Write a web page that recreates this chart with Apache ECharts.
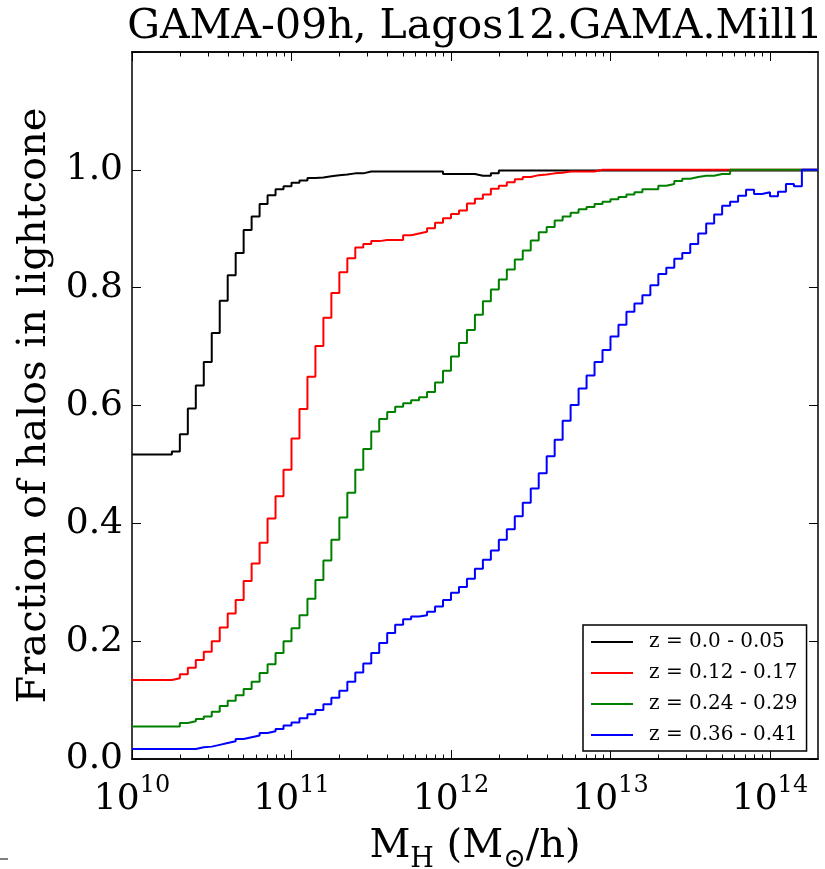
<!DOCTYPE html>
<html>
<head>
<meta charset="utf-8">
<title>GAMA-09h, Lagos12.GAMA.Mill1</title>
<script src="https://cdn.jsdelivr.net/npm/echarts@6/dist/echarts.min.js"></script>
<style>
  html, body { margin: 0; padding: 0; background: #fff; }
  #chart { width: 825px; height: 869px; }
</style>
</head>
<body>
<div id="chart"></div>
<script>
// histogram bins: log10(M_H) from 10.0 in steps of 0.05 dex (86 bins)
const binStart = 10.0;
const binWidth = 0.05;

const seriesNames = ["z = 0.0 - 0.05", "z = 0.12 - 0.17", "z = 0.24 - 0.29", "z = 0.36 - 0.41"];
const seriesColors = ["#000000", "#ff0000", "#008000", "#0000ff"];

const fracZ000 = [
  0.517, 0.517, 0.517, 0.517, 0.517, 0.522, 0.551, 0.595, 0.634, 0.674,
  0.723, 0.778, 0.821, 0.859, 0.898, 0.921, 0.942, 0.957, 0.967, 0.972,
  0.978, 0.982, 0.986, 0.987, 0.989, 0.991, 0.992, 0.994, 0.994, 0.997,
  0.997, 0.997, 0.997, 0.997, 0.997, 0.997, 0.997, 0.997, 0.997, 0.993,
  0.993, 0.993, 0.993, 0.990, 0.990, 0.994, 0.999, 0.999, 0.999, 0.999,
  0.999, 0.999, 0.999, 0.999, 0.999, 0.999, 0.999, 0.999, 0.999, 0.999,
  0.999, 0.999, 0.999, 0.999, 0.999, 0.999, 0.999, 0.999, 0.999, 0.999,
  0.999, 0.999, 0.999, 0.999, 0.999, 0.999, 0.999, 0.999, 0.999, 0.999,
  0.999, 0.999, 0.999, 0.999, 0.999, 0.999
];
const fracZ012 = [
  0.134, 0.134, 0.134, 0.134, 0.134, 0.137, 0.144, 0.155, 0.168, 0.182,
  0.200, 0.223, 0.247, 0.270, 0.302, 0.332, 0.367, 0.408, 0.446, 0.491,
  0.544, 0.594, 0.649, 0.701, 0.749, 0.791, 0.826, 0.850, 0.868, 0.874,
  0.879, 0.881, 0.881, 0.881, 0.889, 0.892, 0.895, 0.901, 0.910, 0.918,
  0.925, 0.931, 0.943, 0.951, 0.958, 0.968, 0.973, 0.979, 0.984, 0.988,
  0.991, 0.992, 0.994, 0.995, 0.997, 0.997, 0.997, 0.997, 1.000, 1.000,
  1.000, 1.000, 1.000, 1.000, 1.000, 1.000, 1.000, 1.000, 1.000, 1.000,
  1.000, 1.000, 1.000, 1.000, 1.000, 1.000, 1.000, 1.000, 1.000, 1.000,
  1.000, 1.000, 1.000, 1.000, 1.000, 1.000
];
const fracZ024 = [
  0.055, 0.055, 0.055, 0.055, 0.055, 0.055, 0.061, 0.064, 0.068, 0.072,
  0.080, 0.090, 0.099, 0.108, 0.119, 0.131, 0.146, 0.161, 0.180, 0.200,
  0.222, 0.244, 0.272, 0.304, 0.337, 0.372, 0.410, 0.452, 0.491, 0.526,
  0.556, 0.577, 0.589, 0.598, 0.604, 0.609, 0.614, 0.623, 0.639, 0.659,
  0.683, 0.706, 0.728, 0.754, 0.777, 0.797, 0.814, 0.831, 0.848, 0.863,
  0.880, 0.894, 0.903, 0.914, 0.921, 0.927, 0.933, 0.937, 0.942, 0.946,
  0.950, 0.954, 0.958, 0.962, 0.967, 0.967, 0.973, 0.976, 0.981, 0.985,
  0.988, 0.990, 0.990, 0.993, 0.993, 1.000, 1.000, 1.000, 1.000, 1.000,
  1.000, 1.000, 1.000, 1.000, 1.000, 1.000
];
const fracZ036 = [
  0.017, 0.017, 0.017, 0.017, 0.017, 0.017, 0.017, 0.017, 0.020, 0.021,
  0.024, 0.027, 0.030, 0.034, 0.037, 0.040, 0.044, 0.047, 0.051, 0.057,
  0.062, 0.069, 0.076, 0.083, 0.093, 0.104, 0.116, 0.131, 0.147, 0.162,
  0.180, 0.197, 0.214, 0.228, 0.237, 0.242, 0.244, 0.250, 0.259, 0.270,
  0.282, 0.292, 0.306, 0.323, 0.338, 0.354, 0.372, 0.390, 0.412, 0.435,
  0.459, 0.485, 0.514, 0.542, 0.574, 0.601, 0.629, 0.651, 0.674, 0.694,
  0.717, 0.737, 0.759, 0.773, 0.787, 0.804, 0.823, 0.834, 0.849, 0.859,
  0.874, 0.892, 0.909, 0.924, 0.939, 0.946, 0.956, 0.966, 0.959, 0.962,
  0.955, 0.963, 0.976, 0.972, 1.000, 1.000
];

const xMin = 1e10;
const xMax = 2e14;
const majorX = [1e10, 1e11, 1e12, 1e13, 1e14];

const minorX = [];
for (let e = 10; e < 14; e++) {
  for (let m = 2; m <= 9; m++) minorX.push(m * Math.pow(10, e));
}

// histogram -> step line: one point per bin left edge plus the last right edge
function stepData(vals) {
  const pts = vals.map((v, i) => [Math.pow(10, binStart + binWidth * i), v]);
  pts.push([Math.pow(10, binStart + binWidth * vals.length), vals[vals.length - 1]]);
  return pts;
}

const FONT = "DejaVu Serif";
const chart = echarts.init(document.getElementById("chart"), null, { renderer: "canvas" });

const axisLine = { show: true, onZero: false, lineStyle: { color: "#000", width: 1.5 } };

function xAxisDef(position, values, tickLen, withLabels) {
  return {
    type: "log",
    logBase: 10,
    min: xMin,
    max: xMax,
    position: position,
    axisLine: axisLine,
    splitLine: { show: false },
    axisTick: { show: true, inside: true, length: tickLen, customValues: values, lineStyle: { color: "#000", width: 1 } },
    axisLabel: withLabels ? {
      show: true,
      customValues: values,
      margin: 15,
      formatter: (v) => `{b|10}{s|${Math.round(Math.log10(v))}}`,
      rich: {
        b: { fontFamily: FONT, fontSize: 36, color: "#000", lineHeight: 44, verticalAlign: "bottom" },
        s: { fontFamily: FONT, fontSize: 24, color: "#000", lineHeight: 26, verticalAlign: "top" }
      }
    } : { show: false }
  };
}

const xAxes = [
  Object.assign(xAxisDef("bottom", majorX, 9, true), {
    name: "{m|M}{sub|H}{m| (M}{sub|⊙}{m|/h)}",
    nameLocation: "middle",
    nameGap: 68,
    nameTextStyle: {
      rich: {
        m: { fontFamily: FONT, fontSize: 40, color: "#000", lineHeight: 46, verticalAlign: "top" },
        sub: { fontFamily: FONT, fontSize: 27, color: "#000", lineHeight: 28, verticalAlign: "bottom" }
      }
    }
  }),
  xAxisDef("bottom", minorX, 4.5, false),
  xAxisDef("top", majorX, 9, false),
  xAxisDef("top", minorX, 4.5, false)
];

const yAxes = [
  {
    type: "value",
    min: 0,
    max: 1.2,
    interval: 0.2,
    position: "left",
    name: "Fraction of halos in lightcone",
    nameLocation: "middle",
    nameGap: 71,
    nameRotate: 90,
    nameTextStyle: { fontFamily: FONT, fontSize: 40, color: "#000" },
    axisLine: axisLine,
    splitLine: { show: false },
    axisTick: { show: true, inside: true, length: 9, lineStyle: { color: "#000", width: 1 } },
    axisLabel: {
      margin: 9,
      fontFamily: FONT,
      fontSize: 36,
      color: "#000",
      formatter: (v) => (v > 1.05 ? "" : v.toFixed(1))
    }
  },
  {
    type: "value",
    min: 0,
    max: 1.2,
    interval: 0.2,
    position: "right",
    axisLine: axisLine,
    splitLine: { show: false },
    axisTick: { show: true, inside: true, length: 9, lineStyle: { color: "#000", width: 1 } },
    axisLabel: { show: false }
  }
];

const allFracs = [fracZ000, fracZ012, fracZ024, fracZ036];

chart.setOption({
  animation: false,
  backgroundColor: "#fff",
  grid: { left: 132, right: 7, top: 52, bottom: 110, containLabel: false, outerBoundsMode: "none" },
  xAxis: xAxes,
  yAxis: yAxes,
  legend: {
    orient: "vertical",
    left: 583,
    top: 625,
    icon: "rect",
    itemWidth: 42,
    itemHeight: 2,
    itemGap: 7,
    padding: [5, 9, 4, 8],
    borderColor: "#000",
    borderWidth: 1.5,
    borderRadius: 0,
    backgroundColor: "#fff",
    selectedMode: false,
    textStyle: { fontFamily: FONT, fontSize: 20, color: "#000", lineHeight: 24, padding: [0, 0, 0, 11] },
    data: seriesNames
  },
  graphic: [
    {
      type: "text",
      x: 475,
      y: 27,
      style: {
        text: "GAMA-09h, Lagos12.GAMA.Mill1",
        font: `41px "${FONT}"`,
        fill: "#000",
        textAlign: "center",
        textVerticalAlign: "middle"
      }
    },
    {
      type: "line",
      shape: { x1: 0, y1: 859, x2: 8, y2: 859 },
      style: { stroke: "#000", lineWidth: 1 }
    }
  ],
  series: allFracs.map((vals, i) => ({
    name: seriesNames[i],
    type: "line",
    step: "end",
    xAxisIndex: 0,
    yAxisIndex: 0,
    data: stepData(vals),
    showSymbol: false,
    symbol: "none",
    color: seriesColors[i],
    lineStyle: { color: seriesColors[i], width: 2 },
    emphasis: { disabled: true },
    z: 2 + i
  }))
});
</script>
</body>
</html>
